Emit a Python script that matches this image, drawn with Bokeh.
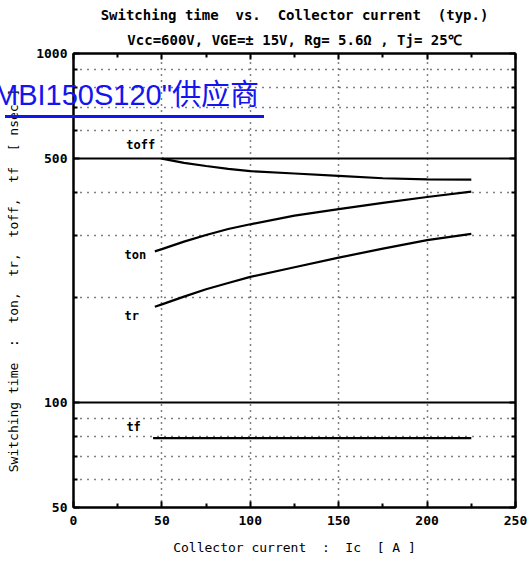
from bokeh.plotting import figure
from bokeh.models import (FixedTicker, LogAxis, LinearAxis, PrintfTickFormatter,
                          Title, ColumnDataSource, Range1d, Div, GridBox)
from bokeh.core.properties import value
from bokeh.embed import file_html
from bokeh.resources import INLINE

# ---- data ----
x_toff = [50, 62.5, 75, 87.5, 100, 125, 150, 175, 200, 225]
toff = [500, 486, 476, 467, 460, 453, 446, 439, 436, 435]

x_on = [46, 50, 62.5, 75, 87.5, 100, 125, 150, 175, 200, 225]
ton = [271, 275, 289, 302, 314, 324, 343, 358, 373, 388, 402]
tr = [188, 191, 201, 211, 220, 229, 244, 260, 276, 292, 304]

x_tf = [45, 100, 150, 200, 225]
tf = [79, 79, 79, 79, 79]

curve_names = ["toff", "ton", "tr", "tf"]
name_x = [38, 35, 33, 34]
name_y = [545, 265, 177, 85]

x_ticks = [0, 50, 100, 150, 200, 250]
x_minor = [25, 75, 125, 175, 225]
y_ticks = [50, 100, 500, 1000]
y_minor = [60, 70, 80, 90, 200, 300, 400, 600, 700, 800, 900]

NB = "\u00a0"
title1 = f"Switching time{NB} vs.{NB} Collector current{NB} (typ.)"
title2 = "Vcc=600V, VGE=\u00b1 15V, Rg= 5.6\u03a9 , Tj= 25\u2103"
x_title = f"Collector current{NB} :{NB} Ic{NB} [ A ]"
y_title = f"Switching time{NB}{NB}:{NB}{NB}ton,{NB} tr,{NB} toff,{NB} tf{NB}{NB}[ nsec ]"
watermark = 'MBI150S120"供应商'

MONO = "DejaVu Sans Mono"
BLUE = "#1414f0"

p = figure(width=528, height=564, output_backend="svg", toolbar_location=None,
           y_axis_type="log", x_range=Range1d(0, 250), y_range=Range1d(50, 1000),
           min_border_left=73, min_border_right=13, min_border_top=53, min_border_bottom=57)
p.background_fill_color = "white"
p.border_fill_color = "white"
p.outline_line_color = "black"
p.outline_line_width = 2

xt = FixedTicker(ticks=x_ticks, minor_ticks=x_minor)
yt = FixedTicker(ticks=y_ticks, minor_ticks=y_minor)

for ax in p.xaxis:
    ax.ticker = xt
    ax.axis_label = x_title
    ax.major_label_standoff = 8
    ax.axis_label_standoff = 12
for ax in p.yaxis:
    ax.ticker = yt
    ax.formatter = PrintfTickFormatter(format="%d")
    ax.axis_label = y_title
    ax.major_label_standoff = 6
    ax.axis_label_standoff = 12

for ax in list(p.xaxis) + list(p.yaxis):
    ax.axis_line_color = "black"
    ax.axis_line_width = 2
    ax.major_tick_in = 6
    ax.major_tick_out = 0
    ax.minor_tick_in = 4
    ax.minor_tick_out = 0
    ax.major_tick_line_color = "black"
    ax.major_tick_line_width = 2
    ax.minor_tick_line_color = "black"
    ax.minor_tick_line_width = 2
    ax.major_label_text_font = MONO
    ax.major_label_text_font_style = "bold"
    ax.major_label_text_font_size = "13px"
    ax.major_label_text_color = "black"
    ax.axis_label_text_font = MONO
    ax.axis_label_text_font_style = "normal"
    ax.axis_label_text_font_size = "13px"
    ax.axis_label_text_color = "black"

# top and right axes (ticks only, no labels)
top = LinearAxis(ticker=xt, major_label_overrides={t: "" for t in x_ticks},
                 major_tick_in=6, major_tick_out=0, minor_tick_in=4, minor_tick_out=0,
                 axis_line_width=2, major_tick_line_width=2, minor_tick_line_width=2,
                 major_label_standoff=0)
right = LogAxis(ticker=yt, major_label_overrides={t: "" for t in y_ticks},
                major_tick_in=6, major_tick_out=0, minor_tick_in=4, minor_tick_out=0,
                axis_line_width=2, major_tick_line_width=2, minor_tick_line_width=2,
                major_label_standoff=0)
p.add_layout(top, "above")
p.add_layout(right, "right")

# grids
p.xgrid.grid_line_color = "black"
p.xgrid.grid_line_dash = "1 5"
p.xgrid.grid_line_width = 1.5
p.ygrid.grid_line_color = "black"
p.ygrid.grid_line_width = 2
p.ygrid.minor_grid_line_color = "black"
p.ygrid.minor_grid_line_dash = "1 6"
p.ygrid.minor_grid_line_width = 1.5

# curves
p.line(x_toff, toff, line_color="black", line_width=2.2)
p.line(x_on, ton, line_color="black", line_width=2.2)
p.line(x_on, tr, line_color="black", line_width=2.2)
p.line(x_tf, tf, line_color="black", line_width=2.2)

src = ColumnDataSource(dict(x=name_x, y=name_y, t=curve_names))
p.text("x", "y", text="t", source=src, text_font=value(MONO), text_font_style="bold",
       text_font_size="12px", text_align="center", text_baseline="middle", text_color="black")

# titles
p.add_layout(Title(text=title2, align="center", text_font=MONO, text_font_size="14px",
                   text_font_style="bold", text_color="black", standoff=11, offset=0), "above")
p.add_layout(Title(text=title1, align="center", text_font=MONO, text_font_size="14px",
                   text_font_style="bold", text_color="black", standoff=4, offset=0), "above")
p.title.visible = False

# watermark overlay (link-like blue underlined text over the chart)
wm_html = (
    '<div style="position:relative;width:300px;height:45px;">'
    '<div style="position:absolute;left:0;top:0;font-family:\'Liberation Sans\',\'Noto Sans CJK SC\';'
    f'font-size:29px;line-height:33px;color:{BLUE};white-space:nowrap;">{watermark}</div>'
    f'<div style="position:absolute;left:11px;top:36px;width:259px;height:2.5px;background:{BLUE};"></div>'
    '</div>'
)
wm = Div(text=wm_html, width=300, height=45,
         styles={"transform": "translate(-11px, 74px)", "position": "relative",
                 "z-index": "10", "pointer-events": "none"})

root = GridBox(children=[(p, 0, 0), (wm, 0, 0)])

open("out.html", "w").write(file_html(root, INLINE))
